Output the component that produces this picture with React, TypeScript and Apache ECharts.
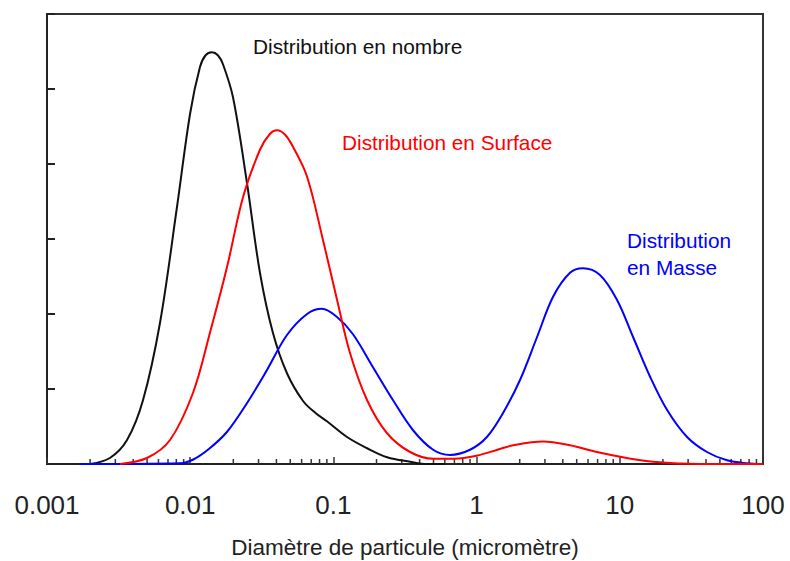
import React, { useEffect, useRef } from "react";
import * as echarts from "echarts";

// Particle diameter (µm) and relative values
const nombreX = [0.002, 0.00275, 0.00362, 0.00468, 0.00615, 0.00809, 0.01, 0.01169, 0.0128, 0.0142, 0.0156, 0.01694, 0.0199, 0.0249, 0.0307, 0.0378, 0.0474, 0.0614, 0.075, 0.0901, 0.1245, 0.172, 0.237, 0.343, 0.451, 0.6];
const nombreY = [0, 0.08, 0.32, 0.85, 1.88, 3.43, 4.68, 5.29, 5.45, 5.49, 5.45, 5.33, 4.89, 3.75, 2.55, 1.75, 1.21, 0.84, 0.68, 0.57, 0.36, 0.21, 0.09, 0.03, 0, 0];

const surfaceX = [0.00324, 0.00499, 0.00723, 0.01047, 0.01374, 0.0181, 0.0234, 0.0307, 0.036, 0.0404, 0.046, 0.0522, 0.0655, 0.0845, 0.106, 0.1306, 0.172, 0.237, 0.343, 0.5, 0.7, 1.0, 1.4, 1.8, 2.91, 4.49, 6.93, 11.2, 17.1, 36.3, 100];
const surfaceY = [0, 0.08, 0.32, 0.95, 1.75, 2.63, 3.56, 4.19, 4.4, 4.45, 4.39, 4.23, 3.83, 2.99, 2.19, 1.48, 0.85, 0.41, 0.16, 0.07, 0.07, 0.11, 0.19, 0.25, 0.3, 0.25, 0.16, 0.08, 0.03, 0, 0];

const masseX = [0.0017, 0.0085, 0.0105, 0.0135, 0.0181, 0.0249, 0.0343, 0.0474, 0.0655, 0.0832, 0.106, 0.137, 0.189, 0.261, 0.36, 0.497, 0.652, 0.9, 1.18, 1.53, 2.01, 2.64, 3.42, 4.49, 5.53, 7.27, 9.55, 12.4, 16.3, 21.4, 29.5, 40.6, 56.1, 77.3, 100];
const masseY = [0, 0.01, 0.06, 0.2, 0.43, 0.81, 1.25, 1.72, 2.0, 2.07, 1.96, 1.73, 1.29, 0.85, 0.45, 0.19, 0.12, 0.19, 0.36, 0.68, 1.12, 1.69, 2.23, 2.55, 2.61, 2.52, 2.19, 1.69, 1.16, 0.72, 0.36, 0.16, 0.05, 0.01, 0];

const xTickLabels = ["0.001", "0.01", "0.1", "1", "10", "100"];
const decades = [0.001, 0.01, 0.1, 1, 10];
const minorMultipliers = [2, 3, 4, 5, 6, 7, 8, 9];

const FONT = "'Liberation Sans', Arial, sans-serif";

export default function App() {
  const ref = useRef<HTMLDivElement>(null);

  useEffect(() => {
    document.body.style.margin = "0";
    if (!ref.current) return;
    const chart = echarts.init(ref.current, undefined, { renderer: "svg" });

    const minorTicks: number[][] = [];
    decades.forEach((d) => minorMultipliers.forEach((m) => minorTicks.push([d * m, 0])));

    const pair = (xs: number[], ys: number[]) => xs.map((x, i) => [x, ys[i]]);

    const lineSeries = (name: string, data: number[][], color: string) => ({
      name,
      type: "line",
      data,
      smooth: 0.35,
      showSymbol: false,
      symbol: "none",
      lineStyle: { color, width: 2 },
      z: 3,
    });

    chart.setOption({
      animation: false,
      backgroundColor: "#ffffff",
      grid: {
        left: 47,
        top: 14,
        width: 716,
        height: 450,
        outerBoundsMode: "none",
        containLabel: false,
        show: true,
        borderColor: "#333333",
        borderWidth: 2,
        backgroundColor: "transparent",
      },
      xAxis: {
        type: "log",
        logBase: 10,
        min: 0.001,
        max: 100,
        name: "Diamètre de particule (micromètre)",
        nameLocation: "middle",
        nameGap: 72,
        nameTextStyle: { fontFamily: FONT, fontSize: 22.5, color: "#222222" },
        axisLine: { lineStyle: { color: "#222222", width: 2 } },
        axisTick: { show: true, inside: true, length: 7, lineStyle: { color: "#333333", width: 1.5 } },
        axisLabel: {
          fontFamily: FONT,
          fontSize: 26,
          color: "#222222",
          margin: 28,
          formatter: (v: number) => {
            const i = Math.round(Math.log10(v)) + 3;
            return xTickLabels[i] ?? "";
          },
        },
        splitLine: { show: false },
      },
      yAxis: {
        type: "value",
        min: 0,
        max: 6,
        interval: 1,
        axisLine: { show: true, lineStyle: { color: "#222222", width: 2 } },
        axisTick: { show: true, inside: true, length: 8, lineStyle: { color: "#222222", width: 2 } },
        axisLabel: { show: false },
        splitLine: { show: false },
      },
      graphic: [
        { type: "text", left: 253, top: 36, style: { text: "Distribution en nombre", fill: "#111111", font: `20.8px ${FONT}` } },
        { type: "text", left: 342, top: 132, style: { text: "Distribution en Surface", fill: "#ff0000", font: `20.8px ${FONT}` } },
        { type: "text", left: 627, top: 230, style: { text: "Distribution", fill: "#0000ff", font: `20.8px ${FONT}` } },
        { type: "text", left: 627, top: 257, style: { text: "en Masse", fill: "#0000ff", font: `20.8px ${FONT}` } },
      ],
      series: [
        {
          type: "custom",
          data: minorTicks,
          encode: { x: 0, y: 1 },
          silent: true,
          z: 2,
          renderItem: (params: any, api: any) => {
            const p = api.coord([api.value(0), 0]);
            return {
              type: "line",
              shape: { x1: p[0], y1: p[1], x2: p[0], y2: p[1] - 5 },
              style: { stroke: "#333333", lineWidth: 1.5 },
            };
          },
        },
        lineSeries("Distribution en nombre", pair(nombreX, nombreY), "#111111"),
        lineSeries("Distribution en Masse", pair(masseX, masseY), "#0000ff"),
        lineSeries("Distribution en Surface", pair(surfaceX, surfaceY), "#ff0000"),
      ],
    });

    return () => chart.dispose();
  }, []);

  return <div ref={ref} style={{ width: 790, height: 561 }} />;
}
